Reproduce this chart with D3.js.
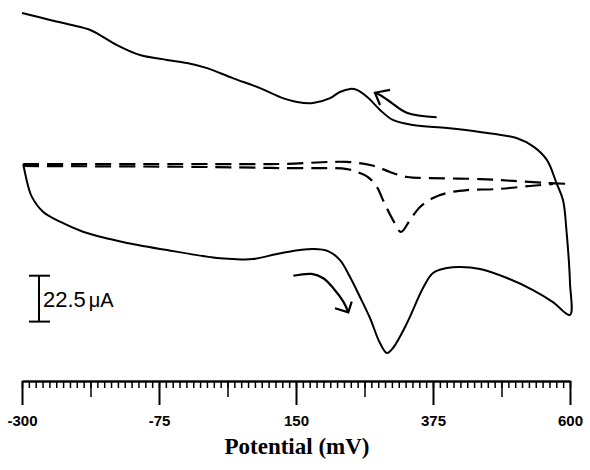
<!DOCTYPE html>
<html>
<head>
<meta charset="utf-8">
<title>Cyclic voltammogram</title>
<script src="https://cdn.jsdelivr.net/npm/d3@7"></script>
<style>
  body { margin: 0; background: #fff; }
</style>
</head>
<body>
<div id="viz"></div>
<script>
var width = 590,
    height = 470;

// solid CV, forward sweep (-300 -> 600 mV), potential in mV, current in uA
var fwdPotential = [-298, -295, -290, -284, -265.5, -237.6, -199.8, -155.5, -127.6, -61.9, 20.2, 46.5, 79.4, 118.8, 156.6, 177.9, 202.5, 222.3, 238.7, 255.1, 271.5, 287.9, 299.4, 309.3, 332.3, 358.6, 375, 398, 419.3, 452.2, 496.5, 539.2, 572, 600];
var fwdCurrent   = [0.5, -3.9, -10.3, -15.5, -22.9, -27.8, -32.7, -36.3, -38.2, -41.7, -45.6, -46.1, -46.1, -43.6, -41.7, -41.2, -42.2, -46.6, -54.9, -64.7, -75, -87.3, -92.2, -89.7, -77.5, -60.3, -52.9, -50.5, -50, -51, -55.4, -61.3, -67.2, -73.5];

// solid CV, reverse sweep (600 -> -300 mV)
var revPotential = [600, 600, 594.5, 588.5, 578, 562, 540, 512, 452, 398, 342, 309, 288, 267, 250, 239, 222, 206, 178, 152, 124, 91, 46, 4, -29, -62, -106, -144, -172, -188, -254, -300];
var revCurrent   = [-73.5, -57.8, -33.3, -17.2, -9, 2.5, 9, 13.2, 16.2, 18.1, 19.6, 22.1, 27, 33.3, 36.8, 37.3, 35.8, 32.8, 30.4, 30.9, 33.3, 37.7, 42.6, 47.5, 50, 51.5, 53.9, 58.8, 63.7, 66.2, 71.1, 74.5];

// dashed CV (flat branch)
var dashAPotential = [-298, -19.2, 123.7, 233.7, 271.5, 288, 304.4, 332.3, 370, 452.2, 506.4, 562.2, 600];
var dashACurrent   = [0.5, 0.5, 0.5, 1.5, 0, -1.5, -3.4, -5.9, -6.4, -6.9, -7.8, -8.8, -9.3];

// dashed CV (branch with peak)
var dashBPotential = [-298, -19.2, 123.7, 233.7, 250.2, 268.2, 283, 292.9, 309.3, 322.4, 337.2, 353.6, 375, 398, 430.8, 480, 534, 572];
var dashBCurrent   = [-0.5, -0.9, -1.5, -2, -3.4, -5.9, -10.8, -17.2, -27, -32.8, -27, -20.6, -16.2, -13.7, -12.3, -11.8, -10.3, -9.3];

// sweep direction arrows
var arrowTopPotential = [381, 331.8, 304.4, 288, 279.7];
var arrowTopCurrent   = [23.4, 25.6, 31, 34.3, 35.4];
var arrowTopHead      = [[304.4, 36.8], [279.7, 35.4], [288, 29.4]];
var arrowBotPotential = [145.6, 175.8, 194.8, 211.3, 227.7, 235.9];
var arrowBotCurrent   = [-54.3, -53.4, -55.5, -60.4, -67, -72.2];
var arrowBotHead      = [[214, -70.2], [235.9, -72.2], [241.5, -67]];

var majorTicks = [-300, -75, 150, 375, 600];
var scaleBar = 22.5;

var zip = function(xs, ys){
  return xs.map(function(v, i){ return [v, ys[i]]; });
};

var x = d3.scaleLinear().domain([-300, 600]).range([22, 570]);
var y = d3.scaleLinear().domain([-100, 80]).range([369, 1.8]);

var svg = d3.select('#viz')
  .append('svg')
  .attr('width', width)
  .attr('height', height)
  .style('font-family', 'Liberation Sans, Arial, sans-serif');

var line = d3.line()
  .x(function(d){ return x(d[0]); })
  .y(function(d){ return y(d[1]); })
  .curve(d3.curveCatmullRom.alpha(0.5));

var straight = d3.line()
  .x(function(d){ return x(d[0]); })
  .y(function(d){ return y(d[1]); });

// dashed loop
svg.append('path')
  .attr('d', line(zip(dashAPotential, dashACurrent)))
  .attr('fill', 'none').attr('stroke', '#000')
  .attr('stroke-width', 2.2).attr('stroke-dasharray', '16,8');
svg.append('path')
  .attr('d', line(zip(dashBPotential, dashBCurrent)))
  .attr('fill', 'none').attr('stroke', '#000')
  .attr('stroke-width', 2.2).attr('stroke-dasharray', '16,8');

// solid loop
var solid = zip(fwdPotential, fwdCurrent).concat(zip(revPotential, revCurrent).slice(1));
svg.append('path')
  .attr('d', line(solid))
  .attr('fill', 'none').attr('stroke', '#000')
  .attr('stroke-width', 2)
  .attr('stroke-linejoin', 'round');

// arrows
[[arrowTopPotential, arrowTopCurrent, arrowTopHead], [arrowBotPotential, arrowBotCurrent, arrowBotHead]].forEach(function(a){
  svg.append('path')
    .attr('d', line(zip(a[0], a[1])))
    .attr('fill', 'none').attr('stroke', '#000').attr('stroke-width', 2.2);
  svg.append('path')
    .attr('d', straight(a[2]))
    .attr('fill', 'none').attr('stroke', '#000').attr('stroke-width', 2.2);
});

// scale bar
var sbTop = y(0), sbBot = y(-scaleBar);
var sb = svg.append('g').attr('transform', 'translate(39,' + (275.7 - sbTop) + ')');
sb.append('line').attr('x1', 0).attr('x2', 0).attr('y1', sbTop).attr('y2', sbBot)
  .attr('stroke', '#000').attr('stroke-width', 2);
sb.append('line').attr('x1', -10).attr('x2', 11).attr('y1', sbTop).attr('y2', sbTop)
  .attr('stroke', '#000').attr('stroke-width', 2);
sb.append('line').attr('x1', -10).attr('x2', 11).attr('y1', sbBot).attr('y2', sbBot)
  .attr('stroke', '#000').attr('stroke-width', 2);
var sbt = sb.append('text')
  .attr('x', 4).attr('y', (sbTop + sbBot) / 2 + 8)
  .attr('font-size', 22).attr('fill', '#000');
sbt.append('tspan').text(scaleBar);
sbt.append('tspan').attr('dx', 3).attr('font-size', 20).text('μA');

// x axis: minor, medium and major ticks
var axisY = 381;
var minorTicks = d3.range(-300, 600.1, 11.25);
var midTicks = d3.range(-187.5, 600, 225);

var gMinor = svg.append('g').attr('transform', 'translate(0,' + axisY + ')')
  .call(d3.axisBottom(x).tickValues(minorTicks).tickSize(7).tickSizeOuter(0).tickFormat(''));
var gMid = svg.append('g').attr('transform', 'translate(0,' + axisY + ')')
  .call(d3.axisBottom(x).tickValues(midTicks).tickSize(16).tickSizeOuter(0).tickFormat(''));
var gMajor = svg.append('g').attr('transform', 'translate(0,' + axisY + ')')
  .call(d3.axisBottom(x).tickValues(majorTicks).tickSize(24).tickSizeOuter(0).tickPadding(10)
    .tickFormat(function(d){ return String(d); }));

[gMinor, gMid, gMajor].forEach(function(g){
  g.selectAll('path, line').attr('stroke', '#000').attr('stroke-width', 1.5);
});
gMajor.select('.domain').attr('stroke-width', 2);
gMajor.selectAll('line').attr('stroke-width', 2);
gMajor.selectAll('text')
  .attr('font-size', 15)
  .attr('font-weight', 'bold')
  .attr('font-family', 'Liberation Sans, Arial, sans-serif')
  .attr('fill', '#000');

svg.append('text')
  .attr('x', 297).attr('y', 454)
  .attr('text-anchor', 'middle')
  .attr('font-family', 'Liberation Serif, Times New Roman, serif')
  .attr('font-weight', 'bold')
  .attr('font-size', 23)
  .text('Potential (mV)');
</script>
</body>
</html>
